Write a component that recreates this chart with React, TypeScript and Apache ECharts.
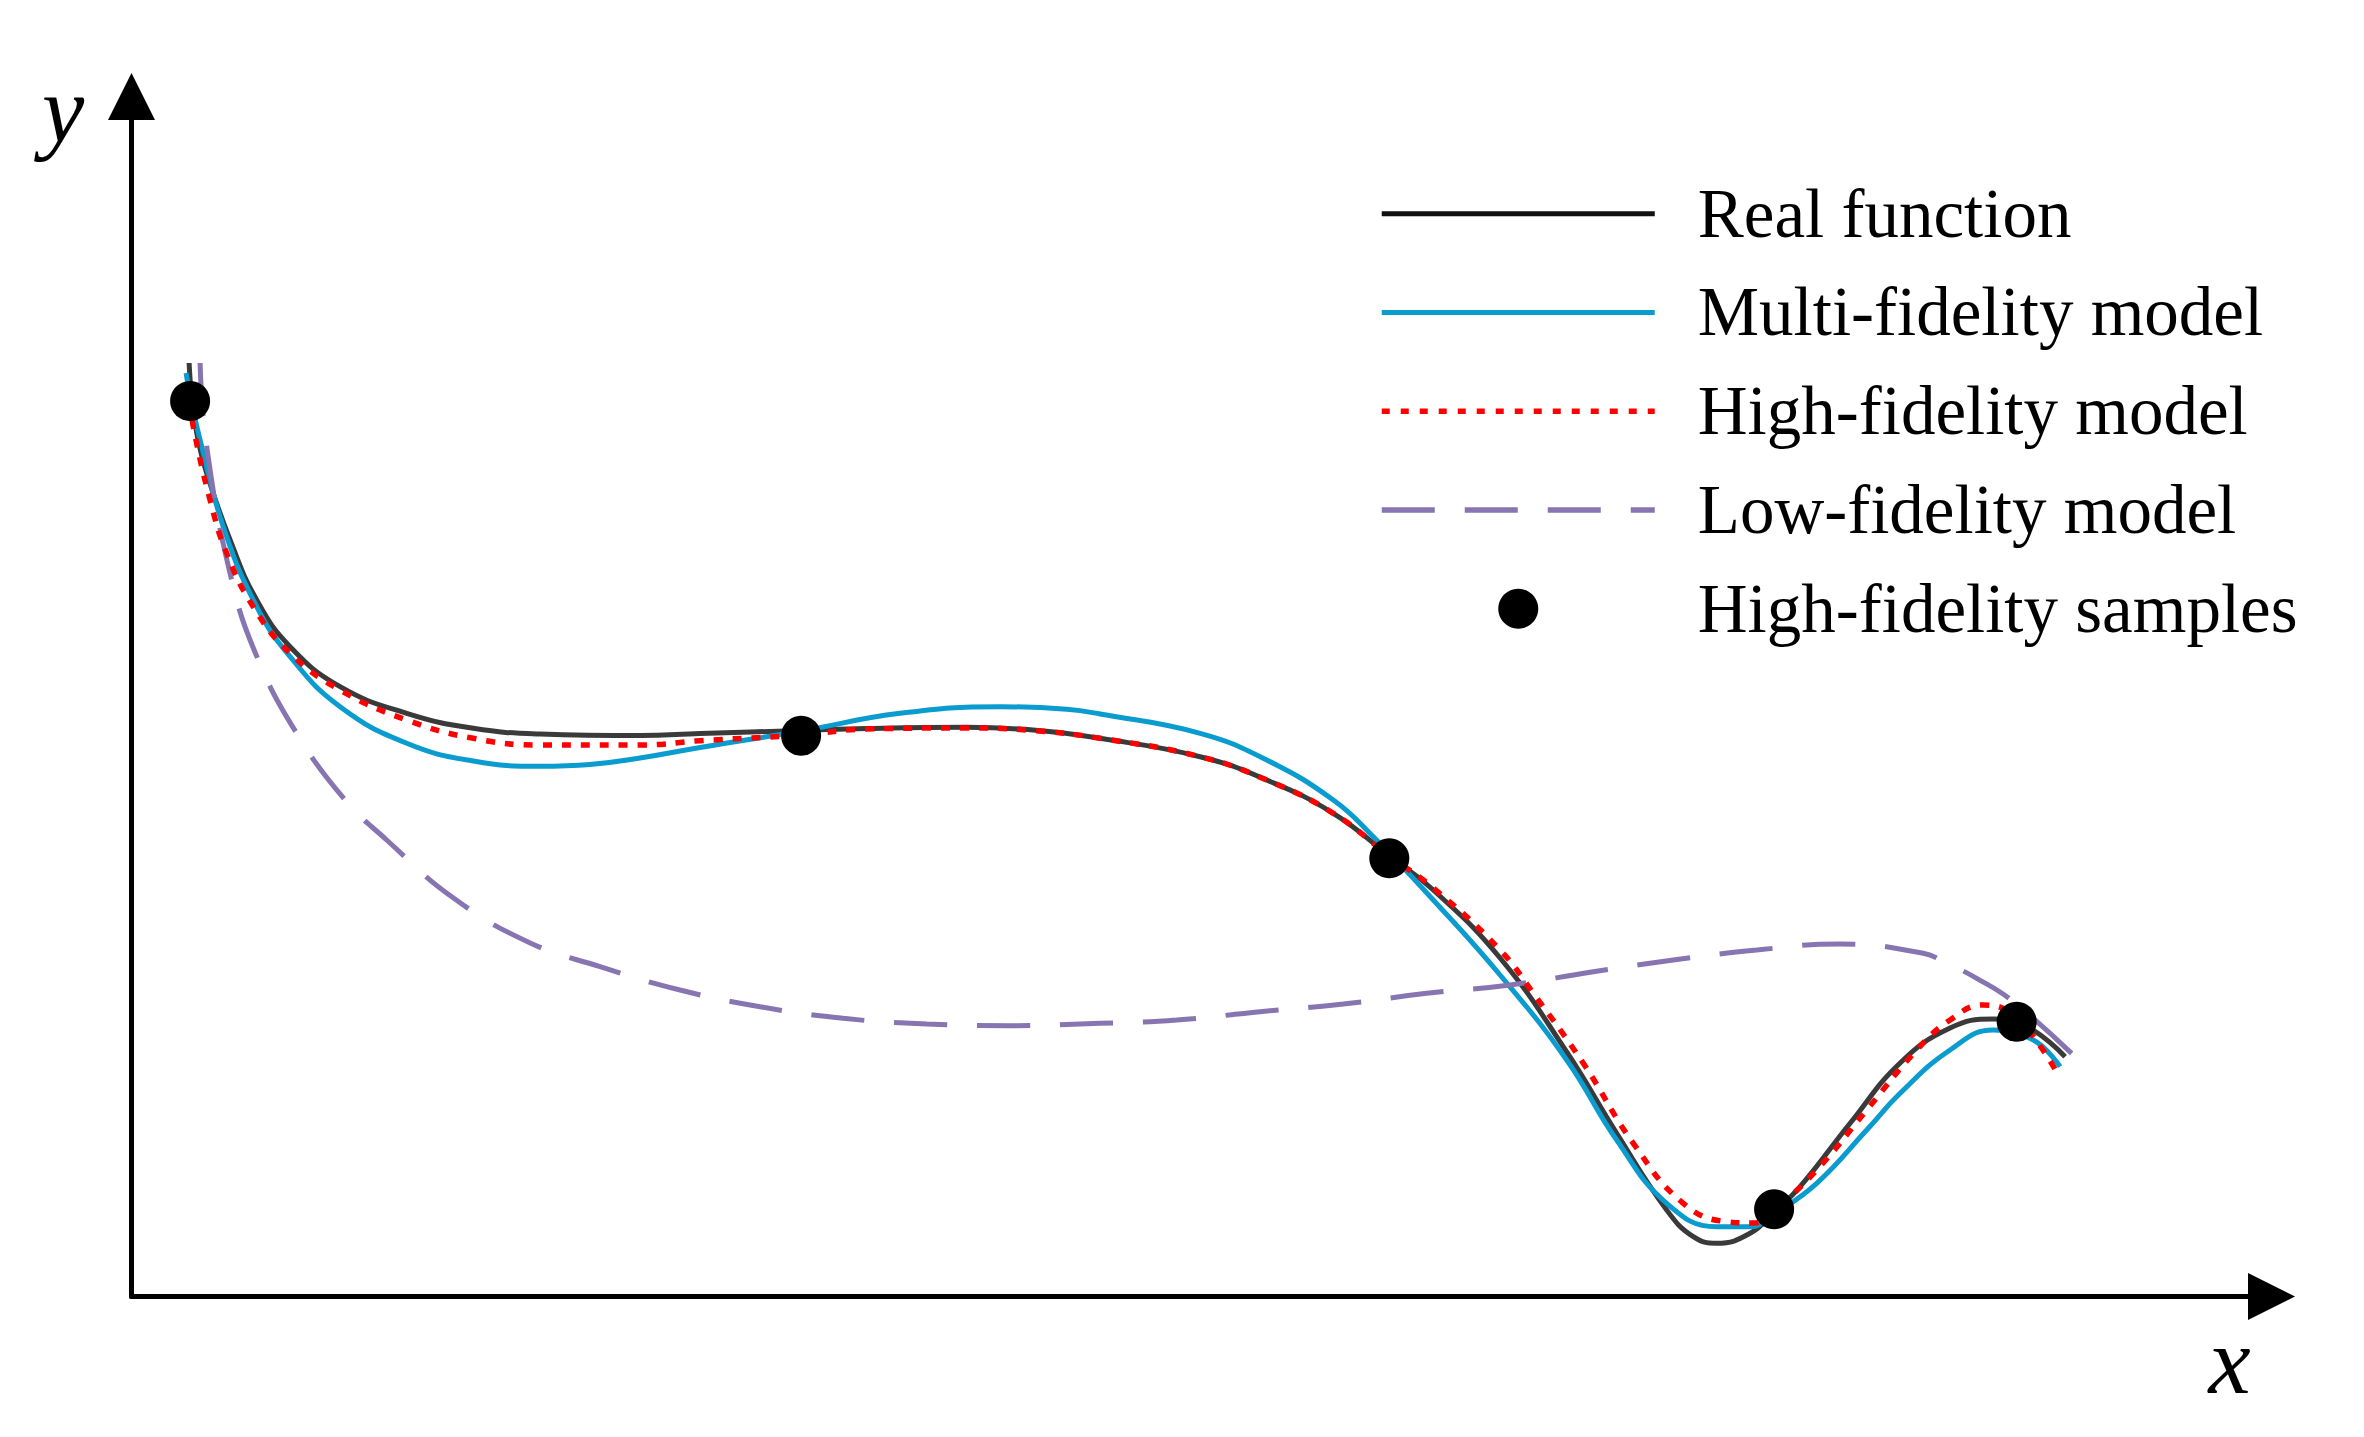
import React, { useEffect, useRef } from 'react';
import * as echarts from 'echarts';

// Values (arbitrary units: x 0..107, y 0..120)
const realFunction: number[][] = [
  [2.88, 93.35], [3.03, 89.55], [3.33, 85.65], [3.76, 82.32], [4.93, 75.65], [6.26, 69.65],
  [7.93, 64.98], [10.43, 60.98], [13.76, 58.32], [17.09, 56.82], [20.43, 56.25], [25.43, 56.1],
  [28.43, 56.3], [33.48, 56.6], [36.76, 56.8], [41.76, 56.92], [45.08, 56.65], [48.43, 55.82],
  [53.43, 53.98], [56.76, 51.65], [60.09, 48.32], [62.89, 44.05], [65.09, 40.65], [68.43, 33.85],
  [71.76, 24.45], [74.26, 16.32], [76.76, 8.65], [78.09, 5.98], [79.26, 5.32], [80.93, 6.32],
  [82.13, 8.45], [83.43, 10.98], [85.93, 17.32], [88.43, 23.35], [90.93, 26.85], [93.09, 27.75],
  [94.26, 27.45], [96.68, 23.98],
];

const multiFidelityModel: number[][] = [
  [2.73, 92.35], [2.98, 89.55], [3.43, 85.65], [4.59, 76.98], [6.26, 68.98], [7.93, 63.98],
  [10.43, 58.98], [13.76, 55.32], [17.09, 53.55], [20.43, 53.02], [22.93, 53.2], [25.43, 53.85],
  [28.43, 54.9], [33.48, 56.55], [38.43, 58.32], [43.43, 58.98], [46.76, 58.72], [48.43, 58.25],
  [53.43, 56.32], [56.76, 53.65], [60.09, 49.65], [62.09, 45.98], [65.09, 39.65], [68.43, 32.15],
  [71.76, 23.65], [74.26, 15.65], [76.76, 9.32], [79.26, 6.98], [80.93, 6.98], [82.13, 8.25],
  [84.26, 11.32], [86.76, 16.65], [88.43, 20.32], [90.93, 24.65], [93.09, 26.65], [95.09, 25.65],
  [96.43, 22.98],
];

const highFidelityModel: number[][] = [
  [2.93, 89.55], [3.09, 86.98], [3.93, 79.65], [4.76, 74.32], [6.09, 68.98], [7.93, 64.32],
  [10.43, 60.65], [13.76, 57.65], [17.09, 55.82], [20.43, 55.15], [25.43, 55.15], [28.43, 55.58],
  [33.48, 56.15], [36.76, 56.75], [41.76, 56.85], [45.08, 56.6], [48.43, 55.82], [53.43, 53.98],
  [56.76, 51.65], [60.09, 48.32], [62.89, 44.05], [65.09, 40.85], [68.43, 34.65], [70.09, 30.32],
  [72.59, 23.32], [75.09, 15.32], [77.59, 9.32], [79.76, 7.48], [81.09, 7.35], [82.13, 8.65],
  [84.26, 12.65], [86.76, 18.65], [89.26, 24.65], [90.93, 27.65], [92.59, 29.15], [94.26, 27.85],
  [96.34, 22.15],
];

const lowFidelityModel: number[][] = [
  [3.43, 93.35], [3.76, 84.98], [5.01, 71.65], [6.34, 63.65], [8.26, 56.32], [10.68, 49.65],
  [12.76, 45.65], [16.03, 39.95], [19.83, 35.45], [23.43, 32.98], [27.43, 30.65], [31.43, 28.98],
  [35.59, 27.82], [39.76, 27.25], [43.93, 27.08], [48.43, 27.32], [52.26, 27.65], [56.43, 28.48],
  [60.59, 29.25], [64.76, 30.32], [68.93, 31.15], [73.09, 32.48], [77.09, 33.65], [81.26, 34.65],
  [85.43, 35.25], [89.59, 34.32], [90.76, 33.32], [92.26, 31.82], [94.09, 29.48], [97.18, 23.98],
];

const highFidelitySamples: number[][] = [
  [2.93, 89.55], [33.48, 56.08], [62.89, 43.82], [82.13, 8.72], [94.26, 27.48],
];

const seriesNames = [
  'Real function',
  'Multi-fidelity model',
  'High-fidelity model',
  'Low-fidelity model',
  'High-fidelity samples',
];

const axisTitles = ['x', 'y'];

const SERIF = '"Liberation Serif", "Times New Roman", Times, serif';

export default function App() {
  const ref = useRef<HTMLDivElement>(null);

  useEffect(() => {
    if (!ref.current) return;
    const chart = echarts.init(ref.current, null, { renderer: 'svg' });

    const axisLine = {
      show: true,
      symbol: ['none', 'triangle'],
      symbolSize: [47, 47],
      lineStyle: { color: '#000', width: 5 },
    };

    chart.setOption({
      animation: false,
      backgroundColor: '#ffffff',
      grid: { left: 131.5, right: 92.5, top: 96.5, bottom: 140.5, containLabel: false },
      xAxis: {
        type: 'value',
        min: 0,
        max: 107,
        axisLine,
        axisTick: { show: false },
        axisLabel: { show: false },
        splitLine: { show: false },
      },
      yAxis: {
        type: 'value',
        min: 0,
        max: 120,
        axisLine,
        axisTick: { show: false },
        axisLabel: { show: false },
        splitLine: { show: false },
      },
      legend: {
        orient: 'vertical',
        left: 1379,
        top: 173.7,
        padding: 0,
        itemWidth: 273,
        itemHeight: 40,
        itemGap: 18.75,
        selectedMode: false,
        lineStyle: { width: 5 },
        textStyle: {
          fontFamily: SERIF,
          fontSize: 69,
          lineHeight: 70,
          color: '#000',
          padding: [0, 0, 10, 38],
        },
        data: [
          { name: seriesNames[0], itemStyle: { opacity: 0 }, lineStyle: { width: 5, color: '#111111' } },
          { name: seriesNames[1], itemStyle: { opacity: 0 }, lineStyle: { width: 5, color: '#0a9bcf' } },
          { name: seriesNames[2], itemStyle: { opacity: 0 }, lineStyle: { width: 5.5, color: '#ff0000', type: [8, 11] } },
          { name: seriesNames[3], itemStyle: { opacity: 0 }, lineStyle: { width: 5.5, color: '#8775b2', type: [53, 30] } },
          { name: seriesNames[4], itemStyle: { color: '#000', opacity: 1 } },
        ],
      },
      graphic: [
        {
          type: 'text',
          x: 2229.5,
          y: 1361,
          style: {
            text: axisTitles[0],
            font: `italic 95px ${SERIF}`,
            fill: '#000',
            align: 'center',
            verticalAlign: 'middle',
          },
        },
        {
          type: 'text',
          x: 63,
          y: 110,
          style: {
            text: axisTitles[1],
            font: `italic 95px ${SERIF}`,
            fill: '#000',
            align: 'center',
            verticalAlign: 'middle',
          },
        },
      ],
      series: [
        {
          name: seriesNames[0],
          type: 'line',
          data: realFunction,
          symbol: 'none',
          smooth: 0.45,
          lineStyle: { color: '#3a3a3a', width: 5 },
          itemStyle: { color: '#3a3a3a' },
        },
        {
          name: seriesNames[1],
          type: 'line',
          data: multiFidelityModel,
          symbol: 'none',
          smooth: 0.45,
          lineStyle: { color: '#0a9bcf', width: 5 },
          itemStyle: { color: '#0a9bcf' },
        },
        {
          name: seriesNames[3],
          type: 'line',
          data: lowFidelityModel,
          symbol: 'none',
          smooth: 0.45,
          lineStyle: { color: '#8775b2', width: 5, type: [53, 30] },
          itemStyle: { color: '#8775b2' },
        },
        {
          name: seriesNames[2],
          type: 'line',
          data: highFidelityModel,
          symbol: 'none',
          smooth: 0.45,
          lineStyle: { color: '#ff0000', width: 5.5, type: [9, 10] },
          itemStyle: { color: '#ff0000' },
        },
        {
          name: seriesNames[4],
          type: 'scatter',
          data: highFidelitySamples,
          symbol: 'circle',
          symbolSize: 40,
          itemStyle: { color: '#000', opacity: 1 },
          z: 5,
        },
      ],
    });

    return () => {
      chart.dispose();
    };
  }, []);

  return (
    <div
      ref={ref}
      style={{ position: 'fixed', left: 0, top: 0, width: 2364, height: 1437, background: '#fff' }}
    />
  );
}
